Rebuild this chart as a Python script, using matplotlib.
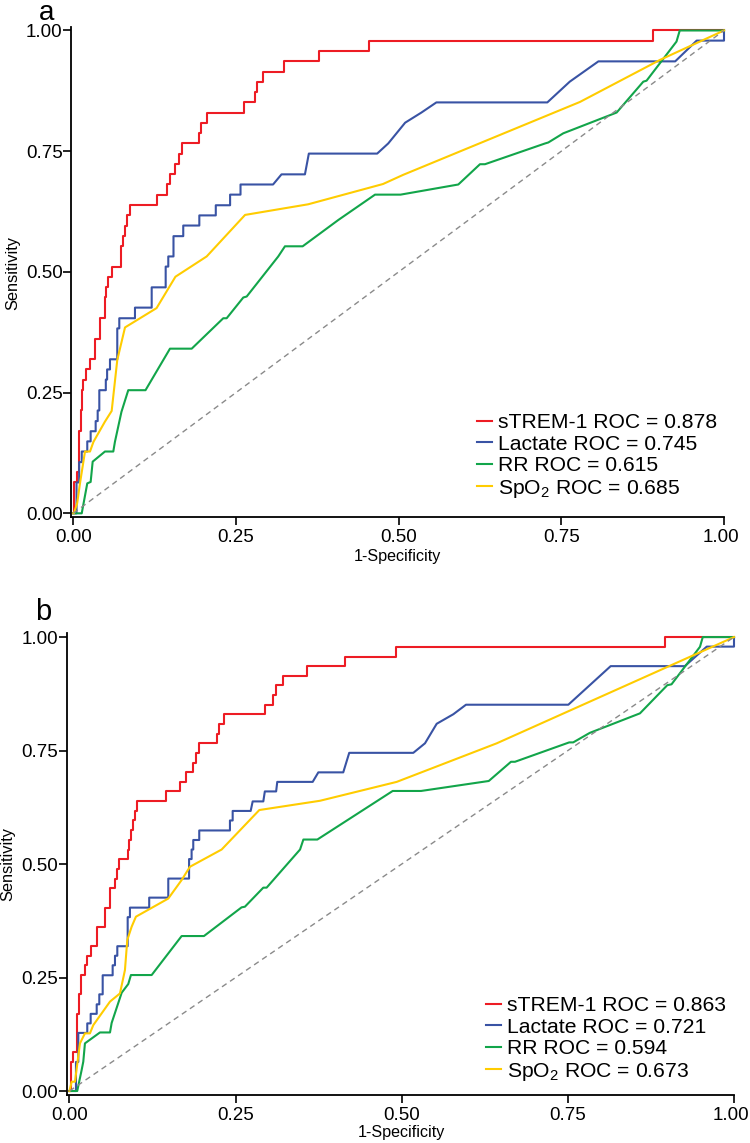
import matplotlib
matplotlib.use('Agg')
import matplotlib.pyplot as plt
import matplotlib.transforms as mtransforms

plt.rcParams['font.family'] = ['Liberation Sans', 'DejaVu Sans']
plt.rcParams['mathtext.fontset'] = 'custom'
plt.rcParams['mathtext.rm'] = 'Liberation Sans'
plt.rcParams['mathtext.it'] = 'Liberation Sans:italic'

# ---------------- data ----------------
ticks = [0.0, 0.25, 0.50, 0.75, 1.00]
tick_labels = ['0.00', '0.25', '0.50', '0.75', '1.00']
series_names = ['sTREM-1', 'Lactate', 'RR', 'SpO$_2$']
a_auc = ['0.878', '0.745', '0.615', '0.685']
b_auc = ['0.863', '0.721', '0.594', '0.673']

# Panel a, sTREM-1 (step positions)
a_strem_fpr = [0, 0.001, 0.005, 0.009, 0.012, 0.013, 0.015, 0.0195, 0.026, 0.033, 0.041, 0.049, 0.051, 0.054,
               0.059, 0.074, 0.077, 0.0795, 0.083, 0.087, 0.128, 0.1435, 0.1486, 0.156, 0.1624, 0.1666, 0.1936,
               0.197, 0.205, 0.262, 0.279, 0.282, 0.292, 0.324, 0.378, 0.4545, 0.891, 1.0]
a_strem_tpr = [0, 0.064, 0.085, 0.17, 0.213, 0.255, 0.277, 0.298, 0.319, 0.362, 0.404, 0.447, 0.468, 0.489,
               0.511, 0.553, 0.574, 0.596, 0.617, 0.638, 0.660, 0.681, 0.702, 0.723, 0.745, 0.766, 0.787,
               0.809, 0.830, 0.851, 0.872, 0.894, 0.915, 0.936, 0.957, 0.979, 1.0, 1.0]
a_lact_fpr = [0, 0.005, 0.005, 0.009, 0.009, 0.013, 0.013, 0.0215, 0.0215, 0.0267, 0.0267, 0.0344, 0.0344, 0.0375,
              0.0375, 0.040, 0.040, 0.050, 0.050, 0.052, 0.052, 0.0564, 0.0564, 0.0676, 0.0676, 0.0707, 0.0707,
              0.0948, 0.0948, 0.1205, 0.1205, 0.142, 0.142, 0.146, 0.146, 0.154, 0.154, 0.169, 0.169, 0.1937,
              0.1937, 0.219, 0.219, 0.241, 0.241, 0.257, 0.257, 0.307, 0.320, 0.356, 0.362, 0.467, 0.484, 0.510,
              0.535, 0.558, 0.7285, 0.763, 0.807, 0.925, 0.958, 1.0, 1.0]
a_lact_tpr = [0, 0, 0.064, 0.064, 0.106, 0.106, 0.128, 0.128, 0.149, 0.149, 0.170, 0.170, 0.191, 0.191,
              0.213, 0.213, 0.255, 0.255, 0.277, 0.277, 0.298, 0.298, 0.319, 0.319, 0.383, 0.383, 0.404,
              0.404, 0.426, 0.426, 0.468, 0.468, 0.511, 0.511, 0.532, 0.532, 0.574, 0.574, 0.596, 0.596,
              0.617, 0.617, 0.638, 0.638, 0.660, 0.660, 0.681, 0.681, 0.702, 0.702, 0.745, 0.745, 0.766, 0.809,
              0.830, 0.851, 0.851, 0.894, 0.936, 0.936, 0.979, 0.979, 1.0]
a_rr_fpr = [0, 0.013, 0.0215, 0.0267, 0.0298, 0.0487, 0.0615, 0.064, 0.074, 0.0845, 0.111, 0.1486, 0.182,
            0.2305, 0.2357, 0.2613, 0.2665, 0.315, 0.3253, 0.3525, 0.4073, 0.4637, 0.503, 0.5917, 0.625,
            0.6327, 0.725, 0.730, 0.753, 0.835, 0.876, 0.881, 0.927, 0.932, 1.0]
a_rr_tpr = [0, 0, 0.062, 0.065, 0.107, 0.128, 0.128, 0.148, 0.21, 0.255, 0.255, 0.341, 0.341,
            0.404, 0.404, 0.447, 0.449, 0.532, 0.553, 0.553, 0.6075, 0.660, 0.660, 0.681, 0.723,
            0.723, 0.766, 0.768, 0.787, 0.830, 0.894, 0.896, 0.977, 1.0, 1.0]
a_spo2_fpr = [0, 0.001, 0.006, 0.0103, 0.018, 0.0257, 0.031, 0.0487, 0.059, 0.0676, 0.0795, 0.128, 0.157,
              0.205, 0.264, 0.361, 0.476, 0.507, 0.7787, 0.9016, 1.0]
a_spo2_tpr = [0, 0, 0.021, 0.062, 0.128, 0.128, 0.148, 0.19, 0.212, 0.3175, 0.385, 0.425, 0.490,
              0.532, 0.618, 0.640, 0.682, 0.701, 0.852, 0.939, 1.0]

# Panel b
b_strem_fpr = [0, 0.0018, 0.0057, 0.0117, 0.0148, 0.0168, 0.0233, 0.0259, 0.0319, 0.041, 0.0534, 0.061, 0.0685,
               0.072, 0.075, 0.0885, 0.090, 0.0925, 0.095, 0.0986, 0.101, 0.146, 0.167, 0.1753, 0.1854, 0.1904,
               0.1953, 0.2224, 0.2255, 0.2325, 0.295, 0.3067, 0.311, 0.322, 0.357, 0.414, 0.491, 0.896, 1.0]
b_strem_tpr = [0, 0.064, 0.085, 0.17, 0.213, 0.255, 0.277, 0.298, 0.319, 0.362, 0.404, 0.447, 0.468,
               0.489, 0.511, 0.532, 0.553, 0.574, 0.596, 0.617, 0.638, 0.660, 0.681, 0.702, 0.723, 0.745,
               0.766, 0.787, 0.809, 0.830, 0.851, 0.872, 0.894, 0.915, 0.936, 0.957, 0.979, 1.0, 1.0]
b_lact_fpr = [0, 0.0098, 0.0098, 0.0133, 0.0133, 0.0268, 0.0268, 0.0319, 0.0319, 0.041, 0.041, 0.0449, 0.0449,
              0.050, 0.050, 0.065, 0.065, 0.0685, 0.0685, 0.072, 0.072, 0.0876, 0.0876, 0.091, 0.091, 0.120,
              0.120, 0.1487, 0.1487, 0.180, 0.180, 0.1838, 0.1838, 0.1863, 0.1863, 0.1953, 0.1953, 0.2415,
              0.2415, 0.2456, 0.2456, 0.2727, 0.2757, 0.2917, 0.294, 0.311, 0.3127, 0.366, 0.3745, 0.412, 0.421,
              0.5174, 0.535, 0.5526, 0.5776, 0.5967, 0.7507, 0.8144, 0.926, 0.959, 1.0, 1.0]
b_lact_tpr = [0, 0, 0.064, 0.064, 0.128, 0.128, 0.149, 0.149, 0.170, 0.170, 0.191, 0.191, 0.213,
              0.213, 0.255, 0.255, 0.277, 0.277, 0.298, 0.298, 0.319, 0.319, 0.383, 0.383, 0.404, 0.404,
              0.426, 0.426, 0.468, 0.468, 0.511, 0.511, 0.532, 0.532, 0.553, 0.553, 0.574, 0.574,
              0.596, 0.596, 0.617, 0.617, 0.638, 0.638, 0.660, 0.660, 0.681, 0.681, 0.702, 0.702, 0.745,
              0.745, 0.766, 0.809, 0.830, 0.851, 0.851, 0.936, 0.936, 0.979, 0.979, 1.0]
b_rr_fpr = [0, 0.0117, 0.0183, 0.0208, 0.0233, 0.0459, 0.061, 0.0635, 0.0786, 0.0885, 0.0925, 0.1237, 0.1688,
            0.2024, 0.259, 0.264, 0.2917, 0.2967, 0.347, 0.352, 0.373, 0.4864, 0.529, 0.631, 0.6644, 0.6704,
            0.752, 0.758, 0.783, 0.8585, 0.8996, 0.906, 0.9488, 0.953, 1.0]
b_rr_tpr = [0, 0, 0.046, 0.0646, 0.105, 0.129, 0.129, 0.150, 0.2166, 0.2357, 0.2555, 0.2555, 0.3414,
            0.3414, 0.4046, 0.406, 0.448, 0.448, 0.532, 0.554, 0.554, 0.661, 0.661, 0.683, 0.7253, 0.7253,
            0.768, 0.768, 0.789, 0.832, 0.894, 0.896, 0.9786, 1.0, 1.0]
b_spo2_fpr = [0, 0.0033, 0.0083, 0.0158, 0.0233, 0.0308, 0.0358, 0.061, 0.076, 0.0835, 0.087, 0.0936, 0.100,
              0.1487, 0.1688, 0.1813, 0.229, 0.2857, 0.377, 0.4924, 0.643, 1.0]
b_spo2_tpr = [0, 0.0205, 0.0205, 0.105, 0.127, 0.127, 0.145, 0.197, 0.215, 0.2665, 0.3326, 0.362, 0.384,
              0.424, 0.4648, 0.494, 0.532, 0.619, 0.6394, 0.681, 0.766, 1.0]

ref_line = [0, 1]

colors = ['#ED1C24', '#3953A4', '#12A54A', '#FFCC00']

# ---------------- figure ----------------
W, H = 750, 1143
fig = plt.figure(figsize=(W / 100, H / 100), dpi=100)


def rect(left, right, top, bottom):
    return [left / W, 1 - bottom / H, (right - left) / W, (bottom - top) / H]


def panel(pos, xlim, ylim, curves, aucs, leg_xy, letter_xy, letter, ylab_xy, xlab_xy):
    ax = fig.add_axes(pos)
    handles = []
    for i, (fx, ty, step) in enumerate(curves):
        ln, = ax.plot(fx, ty, color=colors[i], lw=1.5, clip_on=False,
                      drawstyle='steps-post' if step else 'default', zorder=3)
        handles.append(ln)
    ax.plot(ref_line, ref_line, color='#8a8a8a', lw=1.0, ls=(0, (4, 3)), zorder=4)
    ax.set_xlim(*xlim)
    ax.set_ylim(*ylim)
    ax.set_xticks(ticks)
    ax.set_xticklabels(tick_labels)
    ax.set_yticks(ticks)
    ax.set_yticklabels(tick_labels)
    for s in ['top', 'right']:
        ax.spines[s].set_visible(False)
    for s in ['left', 'bottom']:
        ax.spines[s].set_linewidth(1.3)
    ax.tick_params(direction='out', length=5.5, width=1.2, labelsize=13.5)
    ax.tick_params(axis='y', pad=0.5)
    ax.tick_params(axis='x', pad=3)
    # keep the last x tick label inside the figure
    last = ax.get_xticklabels()[-1]
    last.set_transform(last.get_transform() + mtransforms.ScaledTranslation(-0.03, 0, fig.dpi_scale_trans))
    labels = [f'{n} ROC = {v}' for n, v in zip(series_names, aucs)]
    ax.legend(handles, labels, loc='upper left',
              bbox_to_anchor=(leg_xy[0] / W, 1 - leg_xy[1] / H), bbox_transform=fig.transFigure,
              frameon=False, fontsize=15.2, handlelength=0.72, handletextpad=0.28,
              labelspacing=0.12, borderpad=0, borderaxespad=0)
    fig.text(letter_xy[0] / W, 1 - letter_xy[1] / H, letter, fontsize=letter_xy[2], ha='left', va='baseline')
    fig.text(ylab_xy[0] / W, 1 - ylab_xy[1] / H, 'Sensitivity', fontsize=11.8, rotation=90,
             ha='center', va='center')
    fig.text(xlab_xy[0] / W, 1 - xlab_xy[1] / H, '1-Specificity', fontsize=11.6, ha='center', va='center')
    return ax


panel(rect(71, 724, 26.6, 516.7), (-0.0035, 1.0), (-0.007, 1.008),
      [(a_strem_fpr, a_strem_tpr, True), (a_lact_fpr, a_lact_tpr, False),
       (a_rr_fpr, a_rr_tpr, False), (a_spo2_fpr, a_spo2_tpr, False)],
      a_auc, (477, 413), (39, 20.5, 20), 'a', (12.5, 273), (397, 557))

panel(rect(66.8, 734, 633, 1095.1), (-0.004, 1.0), (-0.009, 1.009),
      [(b_strem_fpr, b_strem_tpr, True), (b_lact_fpr, b_lact_tpr, False),
       (b_rr_fpr, b_rr_tpr, False), (b_spo2_fpr, b_spo2_tpr, False)],
      b_auc, (486, 996), (35, 620, 21), 'b', (7.5, 864), (401, 1133))

fig.savefig('out.png', dpi=100)
